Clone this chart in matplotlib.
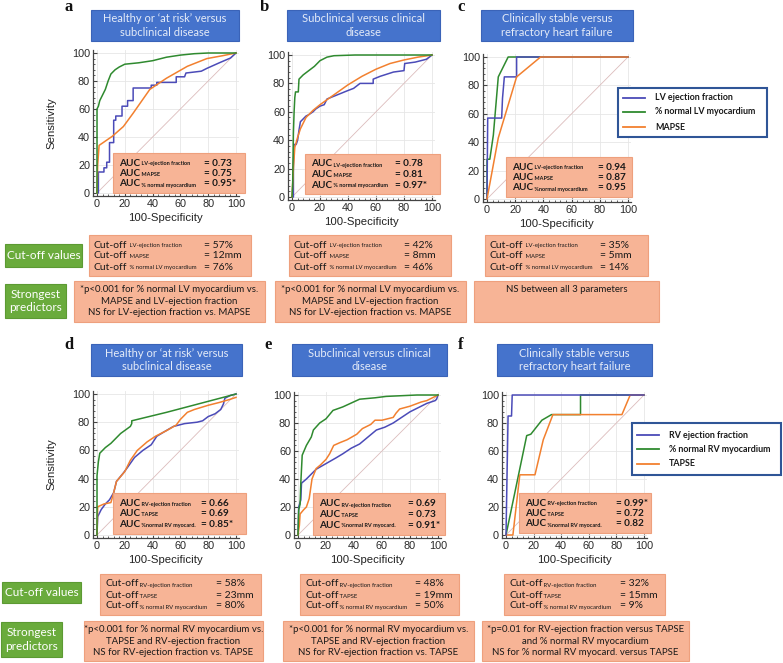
import matplotlib
matplotlib.use("Agg")
import matplotlib.pyplot as plt
from matplotlib.patches import Rectangle
from matplotlib.ticker import AutoMinorLocator

# ---------------- data ----------------
# panel a : LV, healthy/at risk vs subclinical
a_lvef_x = [0, 0.5, 1, 1, 5, 5, 7, 7, 9, 9, 12, 12, 13.5, 13.5, 18, 18, 20, 22, 22, 26, 26, 39, 39, 43, 43, 57, 57, 63, 64, 75, 79, 88, 96, 100]
a_lvef_y = [0, 0, 0, 15, 15, 18, 18, 22, 22, 36, 36, 52, 52, 55, 55, 62, 62, 62, 66, 66, 75, 75, 77, 77, 79, 79, 83, 83, 85.7, 87, 89, 93, 96.4, 100]
a_mapse_x = [0, 0.5, 1.5, 11, 19, 26, 38, 50, 65, 79, 90, 100]
a_mapse_y = [0, 20, 34, 40.5, 47.5, 57, 74, 82, 90.5, 96, 98, 100]
a_myo_x = [0, 0, 0, 1, 2, 4, 6, 8, 10, 13, 16, 20, 30, 40, 50, 60, 70, 80, 100]
a_myo_y = [0, 20, 60, 62, 66, 70, 74, 80, 85, 88, 90, 92, 93, 94.5, 97, 98.5, 99.5, 100, 100]

# panel b : LV, subclinical vs clinical
b_lvef_x = [0, 1, 1, 1.5, 3, 4, 5, 6, 8, 10, 12, 15, 17, 20, 23, 25, 30, 35, 40, 44, 48.6, 55, 58, 58, 63, 72.5, 80, 80.5, 88, 92, 96, 100]
b_lvef_y = [0, 0, 22, 37, 37, 40, 47, 53, 55, 57, 58, 60, 62, 64, 65, 69, 71, 73, 75, 76.5, 80, 80, 80, 83, 85, 88, 89, 94, 95, 96, 97, 100]
b_mapse_x = [0, 1, 2, 4, 6, 10, 15, 20, 25, 30, 40, 50, 60, 70, 80, 90, 100]
b_mapse_y = [0, 20, 35, 42, 48, 56, 61, 65, 68.5, 72, 79, 85, 90, 94, 96.5, 98.5, 100]
b_myo_x = [0, 0.5, 1, 1.5, 2, 2.5, 4.5, 5, 8, 12, 16, 20, 25, 30, 45, 100]
b_myo_y = [0, 10, 45, 60, 70, 74, 74, 83, 86, 89, 92, 96, 98.5, 99.5, 100, 100]

# panel c : LV, stable vs refractory heart failure
c_lvef_x = [0, 0.5, 10.4, 11, 12.3, 21, 21, 100]
c_lvef_y = [0, 57, 57, 71, 86, 86, 100, 100]
c_mapse_x = [0, 8, 21, 38, 100]
c_mapse_y = [0, 43, 86, 100, 100]
c_myo_x = [0, 0, 2, 4.5, 8, 15, 100]
c_myo_y = [0, 28, 28, 45, 86, 100, 100]

# panel d : RV, healthy/at risk vs subclinical
d_rvef_x = [0, 0.5, 3, 6, 9, 12, 14, 19, 22, 27, 33, 39, 43, 48, 55, 63, 72, 76, 80, 85, 89, 91, 92, 96, 100]
d_rvef_y = [0, 13, 18, 22, 25, 30, 38, 44, 48, 55, 60, 64, 70, 73, 77, 79, 80, 81, 84, 86, 89, 93, 97, 99, 100]
d_tapse_x = [0, 0.5, 5, 10, 12, 14, 20, 24, 29, 36, 42, 50, 57, 60, 65, 70, 80, 88, 95, 100]
d_tapse_y = [0, 20, 22, 23, 30, 38, 45, 53, 60, 66, 70, 74, 78, 82, 87, 89, 92, 94, 96, 97.6]
d_myo_x = [0, 0, 1, 2, 6, 10, 17, 24, 25, 25, 50, 75, 100]
d_myo_y = [0, 42, 52, 58, 62, 65, 72, 77, 79, 81, 87, 93.5, 100]

# panel e : RV, subclinical vs clinical
e_rvef_x = [0, 0.5, 2, 2.5, 6, 10, 13, 20, 27, 32, 38, 44, 50, 56, 62, 68, 74, 80, 86, 92, 98, 99, 100]
e_rvef_y = [0, 20, 25, 37, 40, 44, 47, 51, 55, 58, 62, 65, 70, 75, 77, 80, 84, 88, 91, 94, 96, 97, 100]
e_tapse_x = [0, 1, 1.5, 4, 6, 8, 10, 13, 16, 20, 22.6, 25.5, 30, 35, 42, 46, 52, 55, 60, 68, 70, 72.6, 80, 88, 92, 96, 100]
e_tapse_y = [0, 7, 15, 18, 20, 26, 40, 47.5, 50, 54, 58, 64, 66, 68, 72, 76, 79, 82, 82, 84, 87, 90, 92, 95, 96, 98, 100]
e_myo_x = [0, 0.5, 1.5, 2, 3, 6, 9.5, 11, 15.5, 20, 25, 32, 44, 55, 63, 85, 100]
e_myo_y = [0, 18, 22, 37, 57, 64, 70, 75, 80, 83, 89, 91.5, 97, 98, 99, 100, 100]

# panel f : RV, stable vs refractory heart failure
f_rvef_x = [0, 1.5, 4, 4.5, 100]
f_rvef_y = [0, 85, 85, 100, 100]
f_tapse_x = [0, 5, 10, 21, 27, 34, 84, 90, 100]
f_tapse_y = [0, 0, 43, 43, 68, 86, 86, 100, 100]
f_myo_x = [0, 15, 18, 26, 33, 54, 54, 100]
f_myo_y = [0, 71, 72, 82, 86, 86, 100, 100]

titles = ["Healthy or \u2018at risk\u2019 versus\nsubclinical disease",
          "Subclinical versus clinical\ndisease",
          "Clinically stable versus\nrefractory heart failure"]

lv_names = ["LV ejection fraction", "% normal LV myocardium", "MAPSE"]
rv_names = ["RV ejection fraction", "% normal RV myocardium", "TAPSE"]

auc_lv_sub = ["LV-ejection fraction", "MAPSE", "% normal myocardium"]
auc_lv_sub_c = ["LV-ejection fraction", "MAPSE", "%normal myocardium"]
auc_rv_sub = ["RV-ejection fraction", "TAPSE", "%normal RV myocard."]
auc_a = ["= 0.73", "= 0.75", "= 0.95*"]
auc_b = ["= 0.78", "= 0.81", "= 0.97*"]
auc_c = ["= 0.94", "= 0.87", "= 0.95"]
auc_d = ["= 0.66", "= 0.69", "= 0.85*"]
auc_e = ["= 0.69", "= 0.73", "= 0.91*"]
auc_f = ["= 0.99*", "= 0.72", "= 0.82"]

cut_lv_sub = ["LV-ejection fraction", "MAPSE", "% normal LV myocardium"]
cut_rv_sub = ["RV-ejection fraction", "TAPSE", "% normal RV myocardium"]
cut_a = ["= 57%", "= 12mm", "= 76%"]
cut_b = ["= 42%", "= 8mm", "= 46%"]
cut_c = ["= 35%", "= 5mm", "= 14%"]
cut_d = ["= 58%", "= 23mm", "= 80%"]
cut_e = ["= 48%", "= 19mm", "= 50%"]
cut_f = ["= 32%", "= 15mm", "= 9%"]

pred_lv = "*p<0.001 for % normal LV myocardium vs.\nMAPSE and LV-ejection fraction\nNS for LV-ejection fraction vs. MAPSE"
pred_c = "NS between all 3 parameters"
pred_rv = "*p<0.001 for % normal RV myocardium vs.\nTAPSE and RV-ejection fraction\nNS for RV-ejection fraction vs. TAPSE"
pred_f = "*p=0.01 for RV-ejection fraction versus TAPSE\nand % normal RV myocardium\nNS for % normal RV myocard. versus TAPSE"

BLUE = "#4b4bb8"
GREEN = "#2f8a2f"
ORANGE = "#f2802f"
SALMON = "#f7b496"
SALMON_EDGE = "#eea07d"
TITLE_BLUE = "#4573cc"

W, H = 783, 663
fig = plt.figure(figsize=(7.83, 6.63), dpi=100)


def px_axes(x0, x100, y0, y100, xlim=(-3, 102), ylim=(-2, 102)):
    # axes placed so that data 0 / 100 land on the given pixel positions
    sx = (x100 - x0) / 100
    sy = (y0 - y100) / 100
    left = x0 + xlim[0] * sx
    right = x0 + xlim[1] * sx
    bot = y0 - ylim[0] * sy
    top = y0 - ylim[1] * sy
    ax = fig.add_axes([left / W, 1 - bot / H, (right - left) / W, (bot - top) / H])
    ax.set_xlim(xlim)
    ax.set_ylim(ylim)
    return ax


def roc_panel(ax, curves, ylabel=False):
    ax.plot([0, 100], [0, 100], color="#dcbcbc", lw=0.6, zorder=1)
    for xs, ys, c in curves:
        ax.plot(xs, ys, color=c, lw=1.1, zorder=2)
    ax.set_xticks(range(0, 101, 20))
    ax.set_yticks(range(0, 101, 20))
    ax.xaxis.set_minor_locator(AutoMinorLocator(5))
    ax.yaxis.set_minor_locator(AutoMinorLocator(5))
    ax.tick_params(which="major", direction="in", length=3, width=0.8, labelsize=7.8,
                   labelcolor="#2a2a2a", color="#444444", pad=2)
    ax.tick_params(which="minor", direction="in", length=1.5, width=0.6, color="#444444")
    for lab in ax.get_xticklabels() + ax.get_yticklabels():
        lab.set_family("Liberation Sans")
    ax.spines["top"].set_visible(False)
    ax.spines["right"].set_visible(False)
    for s in ("left", "bottom"):
        ax.spines[s].set_color("#444444")
        ax.spines[s].set_linewidth(0.9)
    ax.grid(True, color="#e6e6e6", lw=0.6)
    ax.set_axisbelow(True)
    ax.set_xlabel("100-Specificity", fontsize=8.2, family="Liberation Sans", color="#222222", labelpad=3)
    if ylabel:
        ax.set_ylabel("Sensitivity", fontsize=8.2, family="Liberation Sans", color="#222222", labelpad=11)


ax_a = px_axes(97, 236, 193, 53)
roc_panel(ax_a, [(a_lvef_x, a_lvef_y, BLUE), (a_mapse_x, a_mapse_y, ORANGE), (a_myo_x, a_myo_y, GREEN)], True)
ax_b = px_axes(292, 432, 197, 55)
roc_panel(ax_b, [(b_lvef_x, b_lvef_y, BLUE), (b_mapse_x, b_mapse_y, ORANGE), (b_myo_x, b_myo_y, GREEN)])
ax_c = px_axes(487, 628, 199, 57)
roc_panel(ax_c, [(c_myo_x, c_myo_y, GREEN), (c_lvef_x, c_lvef_y, BLUE), (c_mapse_x, c_mapse_y, ORANGE)])
ax_d = px_axes(97, 236, 535, 394)
roc_panel(ax_d, [(d_rvef_x, d_rvef_y, BLUE), (d_tapse_x, d_tapse_y, ORANGE), (d_myo_x, d_myo_y, GREEN)], True)
ax_e = px_axes(298, 438, 535, 395)
roc_panel(ax_e, [(e_rvef_x, e_rvef_y, BLUE), (e_tapse_x, e_tapse_y, ORANGE), (e_myo_x, e_myo_y, GREEN)])
ax_f = px_axes(506, 644, 535, 395)
roc_panel(ax_f, [(f_myo_x, f_myo_y, GREEN), (f_tapse_x, f_tapse_y, ORANGE), (f_rvef_x, f_rvef_y, BLUE)])

# overlay in pixel coordinates for all the boxes
ov = fig.add_axes([0, 0, 1, 1], zorder=10)
ov.set_xlim(0, W)
ov.set_ylim(H, 0)
ov.axis("off")
ov.patch.set_alpha(0)
renderer = fig.canvas.get_renderer()


def box(x0, y0, x1, y1, fc, ec, lw=0.8):
    ov.add_patch(Rectangle((x0, y0), x1 - x0, y1 - y0, facecolor=fc, edgecolor=ec, lw=lw))


def runs(x, y, pieces, color="#1a1a1a"):
    for s, size, weight in pieces:
        t = ov.text(x, y, s, fontsize=size, fontweight=weight, family="Lato",
                    color=color, va="baseline", ha="left")
        x += t.get_window_extent(renderer).width


def title_box(x0, y0, x1, y1, text):
    box(x0, y0, x1, y1, TITLE_BLUE, "#3a63b8")
    ov.text((x0 + x1) / 2, (y0 + y1) / 2, text, ha="center", va="center", fontsize=8,
            family="Lato", color="#e4ebf8", linespacing=1.3)


def auc_box(x0, y0, x1, y1, subs, vals, vx):
    box(x0, y0, x1, y1, SALMON, SALMON_EDGE)
    cy = (y0 + y1) / 2
    for k, (s, v) in enumerate(zip(subs, vals)):
        yb = cy + (k - 1) * 10.5 + 3
        runs(x0 + 6, yb, [("AUC", 7.2, "bold"), (" " + s, 4.0, "bold")])
        runs(x0 + vx, yb, [(v, 7.2, "bold")])


def cut_box(x0, y0, x1, y1, subs, vals, vx):
    box(x0, y0, x1, y1, SALMON, SALMON_EDGE)
    cy = (y0 + y1) / 2
    for k, (s, v) in enumerate(zip(subs, vals)):
        yb = cy + (k - 1) * 11 + 3
        runs(x0 + 5, yb, [("Cut-off", 7.5, "normal"), (" " + s, 4.3, "normal")])
        runs(x0 + vx, yb, [(v, 7.5, "normal")])


def pred_box(x0, y0, x1, y1, text):
    box(x0, y0, x1, y1, SALMON, SALMON_EDGE)
    ov.text((x0 + x1) / 2, y0 + 4.5, text, ha="center", va="top", fontsize=6.9,
            family="Lato", color="#1a1a1a", linespacing=1.35)


def green_box(x0, y0, x1, y1, text):
    box(x0, y0, x1, y1, "#6aab3c", "#5c9a33")
    ov.text((x0 + x1) / 2, (y0 + y1) / 2, text, ha="center", va="center", fontsize=8.5,
            family="Lato", color="white", linespacing=1.3)


def legend_box(x0, y0, x1, y1, names, ys):
    box(x0, y0, x1, y1, "white", "#2f5597", lw=1.5)
    for name, c, yy in zip(names, [BLUE, GREEN, ORANGE], ys):
        ov.plot([x0 + 5, x0 + 27], [yy, yy], color=c, lw=1.3)
        ov.text(x0 + 37, yy, name, fontsize=6.4, fontweight="bold", family="Lato",
                color="#1a1a1a", va="center", ha="left")


# panel letters
for lab, x, y in [("a", 69, 11), ("b", 264, 11), ("c", 461, 11),
                  ("d", 69, 349), ("e", 268, 349), ("f", 461, 349)]:
    ov.text(x, y, lab, fontsize=12, fontweight="bold", family="Liberation Serif",
            ha="center", va="baseline", color="#111111")

# titles
title_box(91, 10, 239, 41, titles[0])
title_box(287, 10, 440, 41, titles[1])
title_box(481, 10, 633, 41, titles[2])
title_box(91, 344, 242, 376, titles[0])
title_box(292, 344, 447, 376, titles[1])
title_box(497, 344, 652, 376, titles[2])

# AUC boxes
auc_box(113, 153, 245, 193, auc_lv_sub, auc_a, 91)
auc_box(305, 154, 440, 194, auc_lv_sub, auc_b, 90)
auc_box(506, 157, 632, 197, auc_lv_sub_c, auc_c, 92)
auc_box(113, 493, 246, 534, auc_rv_sub, auc_d, 88)
auc_box(313, 493, 445, 535, auc_rv_sub, auc_e, 95)
auc_box(519, 493, 651, 533, auc_rv_sub, auc_f, 97)

# legends
legend_box(618, 88, 767, 137, lv_names, [98, 112, 127])
legend_box(632, 423, 781, 475, rv_names, [435, 449, 464])

# cut-off rows
green_box(5, 244, 82, 267, "Cut-off values")
cut_box(89, 235, 251, 276, cut_lv_sub, cut_a, 115)
cut_box(289, 235, 451, 276, cut_lv_sub, cut_b, 115)
cut_box(485, 235, 648, 276, cut_lv_sub, cut_c, 115)
green_box(2, 582, 81, 603, "Cut-off values")
cut_box(100, 574, 261, 615, cut_rv_sub, cut_d, 116)
cut_box(300, 574, 459, 615, cut_rv_sub, cut_e, 115)
cut_box(504, 574, 665, 615, cut_rv_sub, cut_f, 116)

# strongest predictors rows
green_box(5, 284, 66, 318, "Strongest\npredictors")
pred_box(74, 281, 265, 322, pred_lv)
pred_box(275, 281, 466, 322, pred_lv)
pred_box(474, 281, 659, 322, pred_c)
green_box(1, 622, 62, 657, "Strongest\npredictors")
pred_box(84, 621, 263, 661, pred_rv)
pred_box(283, 621, 474, 661, pred_rv)
pred_box(482, 621, 689, 661, pred_f)

fig.savefig("out.png", dpi=100)
